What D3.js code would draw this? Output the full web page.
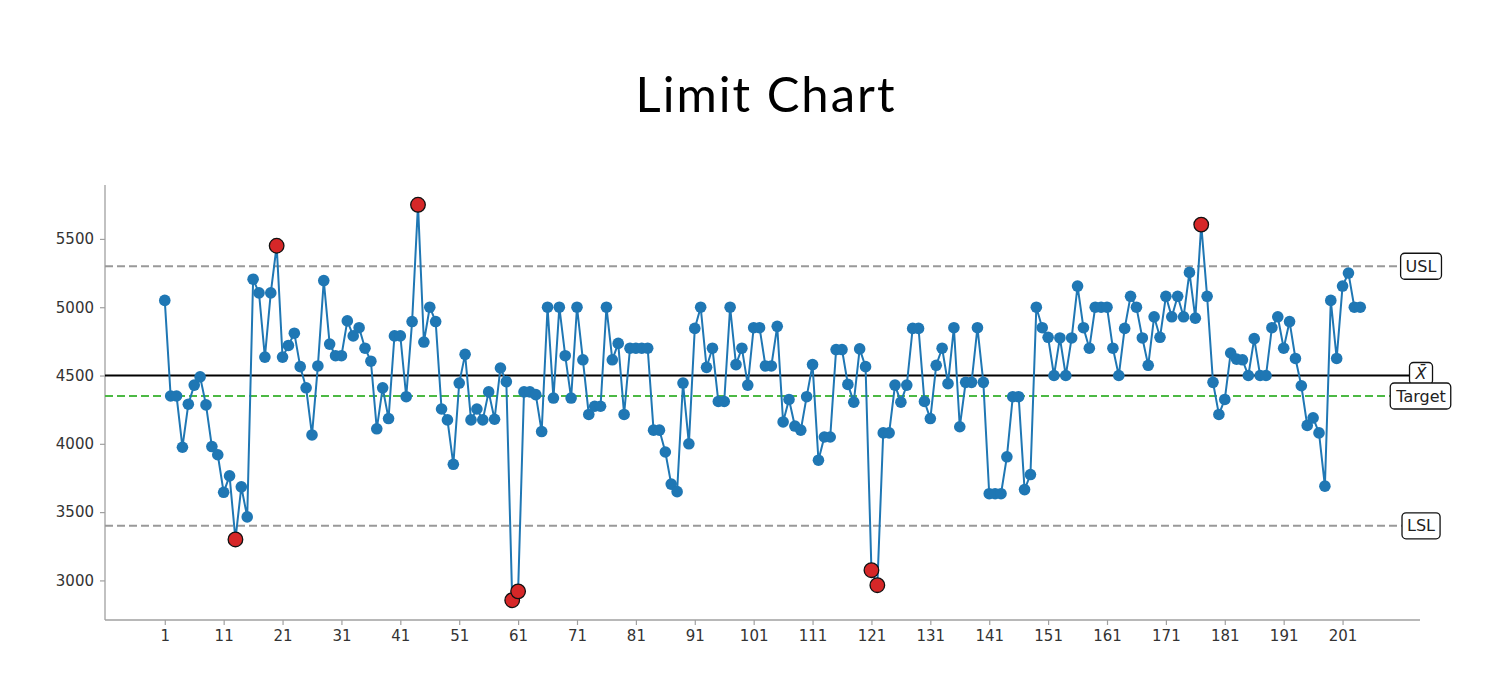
<!DOCTYPE html>
<html>
<head>
<meta charset="utf-8">
<script src="https://cdn.jsdelivr.net/npm/d3@7"></script>
<style>
  html, body { margin: 0; padding: 0; background: #fff; }
  svg { display: block; }
</style>
</head>
<body>
<svg id="chart" width="1500" height="700"></svg>
<script>
// ---- Data ----
const values = [
  5050, 4350, 4350, 3975, 4290, 4430, 4490, 4285, 3980, 3920,
  3645, 3765, 3300, 3685, 3465, 5205, 5105, 4635, 5105, 5450,
  4635, 4720, 4810, 4565, 4410, 4065, 4570, 5195, 4730, 4645,
  4645, 4900, 4790, 4850, 4700, 4605, 4110, 4410, 4185, 4790,
  4790, 4345, 4895, 5750, 4745, 5000, 4895, 4255, 4175, 3850,
  4445, 4655, 4175, 4255, 4175, 4380, 4180, 4555, 4455, 2855,
  2920, 4380, 4380, 4360, 4090, 5000, 4335, 5000, 4645, 4335,
  5000, 4615, 4215, 4275, 4275, 5000, 4615, 4735, 4215, 4700,
  4700, 4700, 4700, 4100, 4100, 3940, 3705, 3650, 4445, 4000,
  4845, 5000, 4560, 4700, 4310, 4310, 5000, 4580, 4700, 4430,
  4850, 4850, 4570, 4570, 4860, 4160, 4325, 4130, 4100, 4345,
  4580, 3880, 4050, 4050, 4690, 4690, 4435, 4305, 4695, 4565,
  3075, 2965, 4080, 4080, 4430, 4305, 4430, 4845, 4845, 4310,
  4185, 4575, 4700, 4440, 4850, 4125, 4450, 4450, 4850, 4450,
  3635, 3635, 3635, 3905, 4345, 4345, 3665, 3775, 5000, 4850,
  4780, 4500, 4775, 4500, 4775, 5155, 4850, 4700, 5000, 5000,
  5000, 4700, 4500, 4845, 5080, 5000, 4775, 4575, 4930, 4780,
  5080, 4930, 5080, 4930, 5255, 4920, 5605, 5080, 4450, 4215,
  4325, 4665, 4620, 4615, 4500, 4770, 4500, 4500, 4850, 4930,
  4700, 4895, 4625, 4425, 4135, 4190, 4080, 3690, 5050, 4625,
  5155, 5250, 5000, 5000
];
const samples = values.map((v, i) => i + 1);

const USL = 5300;
const LSL = 3400;
const XBAR = 4500;
const TARGET = 4350;

const xTicks = d3.range(1, 202, 10);
const yTicks = [3000, 3500, 4000, 4500, 5000, 5500];

const refLines = [
  { name: "USL",    value: USL,    color: "#999999", dash: "8,4", label: "USL" },
  { name: "LSL",    value: LSL,    color: "#999999", dash: "8,4", label: "LSL" },
  { name: "XBAR",   value: XBAR,   color: "#000000", dash: null,  label: "X\u0304" },
  { name: "TARGET", value: TARGET, color: "#4cb944", dash: "8,4", label: "Target" }
];

// ---- Layout ----
const svg = d3.select("#chart");
const L = 105, R = 1420, T = 185, B = 620;

const n = values.length;
const xPad = (n - 1) * 0.05;
const x = d3.scaleLinear().domain([1 - xPad, n + xPad]).range([L, R]);
const yMin = d3.min(values), yMax = d3.max(values);
const yPad = (yMax - yMin) * 0.05;
const y = d3.scaleLinear().domain([yMin - yPad, yMax + yPad]).range([B, T]);

// Title
svg.append("text")
  .attr("x", 766).attr("y", 112)
  .attr("text-anchor", "middle")
  .style("font-family", "Lato, 'Open Sans', sans-serif")
  .style("font-size", "49px")
  .style("font-weight", 400)
  .style("letter-spacing", "2px")
  .style("fill", "#000")
  .text("Limit Chart");

// Axes
const axisColor = "#a0a0a0";
const xAxis = svg.append("g")
  .attr("transform", `translate(0,${B})`)
  .call(d3.axisBottom(x).tickValues(xTicks).tickSize(5).tickPadding(5).tickFormat(d3.format("d")));
const yAxis = svg.append("g")
  .attr("transform", `translate(${L},0)`)
  .call(d3.axisLeft(y).tickValues(yTicks).tickSize(5).tickPadding(6).tickFormat(d3.format("d")));

[xAxis, yAxis].forEach(g => {
  g.select(".domain").remove();
  g.selectAll(".tick line").attr("stroke", axisColor).attr("stroke-width", 1.2);
  g.selectAll(".tick text")
    .style("font-family", "'DejaVu Sans', sans-serif")
    .style("font-size", "15px")
    .style("fill", "#333");
});
svg.append("line").attr("x1", L).attr("x2", L).attr("y1", T).attr("y2", B)
  .attr("stroke", axisColor).attr("stroke-width", 1.3);
svg.append("line").attr("x1", L).attr("x2", R).attr("y1", B).attr("y2", B)
  .attr("stroke", axisColor).attr("stroke-width", 1.3);

// Reference lines
svg.append("g").selectAll("line").data(refLines).join("line")
  .attr("x1", L).attr("x2", R)
  .attr("y1", d => y(d.value)).attr("y2", d => y(d.value))
  .attr("stroke", d => d.color)
  .attr("stroke-width", 2)
  .attr("stroke-dasharray", d => d.dash);

// Data line
const line = d3.line().x((d, i) => x(samples[i])).y(d => y(d));
svg.append("path")
  .datum(values)
  .attr("d", line)
  .attr("fill", "none")
  .attr("stroke", "#1f77b4")
  .attr("stroke-width", 2);

const pts = values.map((v, i) => ({ s: samples[i], v, out: v > USL || v < LSL }));
svg.append("g").selectAll("circle").data(pts.filter(d => !d.out)).join("circle")
  .attr("cx", d => x(d.s)).attr("cy", d => y(d.v))
  .attr("r", 5.8)
  .attr("fill", "#1f77b4");
svg.append("g").selectAll("circle").data(pts.filter(d => d.out)).join("circle")
  .attr("cx", d => x(d.s)).attr("cy", d => y(d.v))
  .attr("r", 7.3)
  .attr("fill", "#d62728")
  .attr("stroke", "#111")
  .attr("stroke-width", 1.3);

// Labels in boxes at right edge
const labelOrder = ["USL", "LSL", "XBAR", "TARGET"];
labelOrder.forEach(name => {
  const d = refLines.find(r => r.name === name);
  const g = svg.append("g");
  const cy = y(d.value) + (name === "XBAR" ? -2 : 0);
  const t = g.append("text")
    .attr("x", R + 1).attr("y", cy)
    .attr("text-anchor", "middle")
    .attr("dominant-baseline", "central")
    .style("font-family", "'DejaVu Sans', sans-serif")
    .style("font-size", "16px")
    .style("font-style", name === "XBAR" ? "italic" : "normal")
    .style("fill", "#222")
    .text(d.label);
  const bb = t.node().getBBox();
  const padX = 5, padY = name === "XBAR" ? 1.5 : 3.5;
  g.insert("rect", "text")
    .attr("x", bb.x - padX).attr("y", bb.y - padY)
    .attr("width", bb.width + 2 * padX).attr("height", bb.height + 2 * padY)
    .attr("rx", 4).attr("ry", 4)
    .attr("fill", "#fff")
    .attr("stroke", "#111")
    .attr("stroke-width", 1.3);
});
</script>
</body>
</html>
